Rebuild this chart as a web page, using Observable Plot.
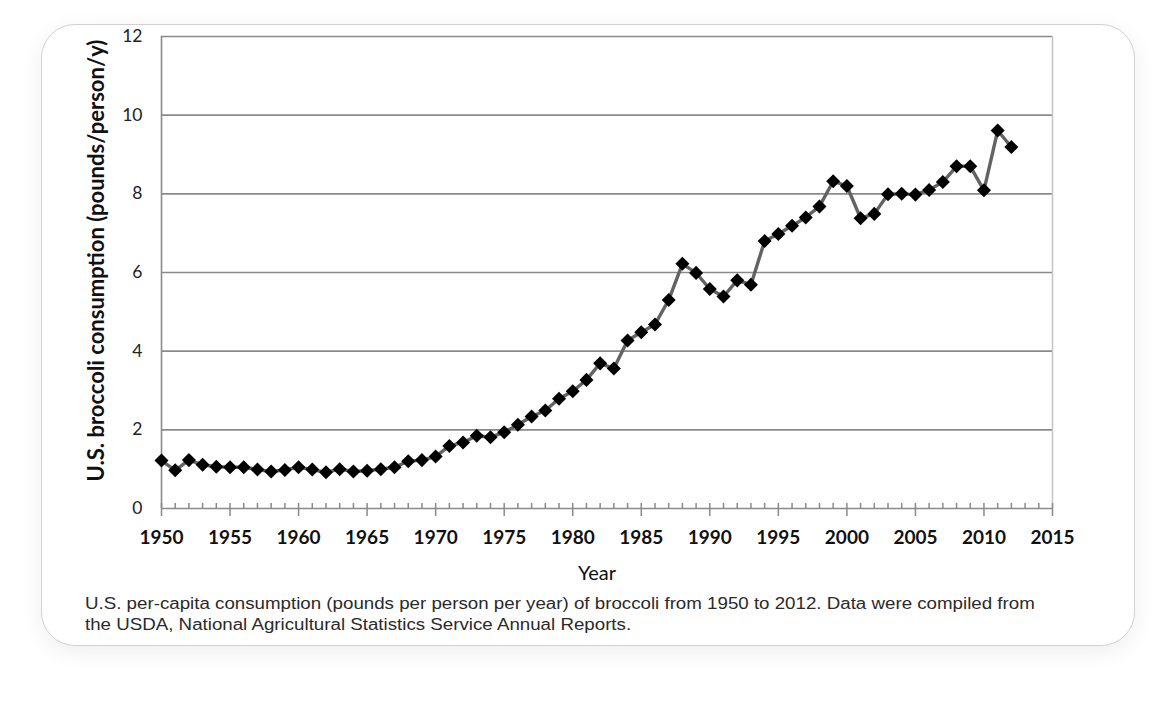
<!DOCTYPE html>
<html>
<head>
<meta charset="utf-8">
<script src="https://cdn.jsdelivr.net/npm/d3@7"></script>
<script src="https://cdn.jsdelivr.net/npm/@observablehq/plot@0.6"></script>
<style>
  html, body { margin: 0; padding: 0; background: #ffffff; }
  #page { position: relative; width: 1176px; height: 704px; overflow: hidden; }
  #card {
    position: absolute; left: 41px; top: 24px; width: 1092px; height: 620px;
    border: 1.5px solid #d2d2d2; border-radius: 34px; background: #fff;
    box-shadow: 0 6px 22px rgba(0,0,0,0.07);
  }
  #chart { position: absolute; left: 0; top: 0; }
  #caption {
    position: absolute; left: 85px; top: 593px; width: 1000px;
    font-family: "Liberation Sans", Arial, sans-serif; font-size: 17.3px; line-height: 21px; color: #2a2a2a;
    transform: scaleX(1.083); transform-origin: 0 0; white-space: nowrap;
  }
</style>
</head>
<body>
<div id="page">
  <div id="card"></div>
  <div id="chart"></div>
  <div id="caption">U.S. per-capita consumption (pounds per person per year) of broccoli from 1950 to 2012. Data were compiled from<br>the USDA, National Agricultural Statistics Service Annual Reports.</div>
</div>
<script>
const years = [1950,1951,1952,1953,1954,1955,1956,1957,1958,1959,
  1960,1961,1962,1963,1964,1965,1966,1967,1968,1969,
  1970,1971,1972,1973,1974,1975,1976,1977,1978,1979,
  1980,1981,1982,1983,1984,1985,1986,1987,1988,1989,
  1990,1991,1992,1993,1994,1995,1996,1997,1998,1999,
  2000,2001,2002,2003,2004,2005,2006,2007,2008,2009,
  2010,2011,2012];
const consumption = [1.22,0.97,1.23,1.11,1.06,1.05,1.05,0.99,0.94,0.98,
  1.05,0.99,0.92,1.00,0.94,0.96,1.00,1.05,1.20,1.23,
  1.32,1.59,1.68,1.85,1.81,1.94,2.13,2.34,2.49,2.79,
  2.98,3.27,3.69,3.56,4.27,4.48,4.68,5.30,6.22,5.99,
  5.58,5.39,5.80,5.69,6.80,6.98,7.19,7.40,7.68,8.32,
  8.20,7.38,7.49,7.99,8.00,7.98,8.10,8.30,8.70,8.70,
  8.09,9.61,9.19];
const xMajorTicks = [1950,1955,1960,1965,1970,1975,1980,1985,1990,1995,2000,2005,2010,2015];
const xMinorTicks = d3.range(1950, 2016);
const yTicks = [0,2,4,6,8,10,12];
const xLabel = "Year";
const yLabel = "U.S. broccoli consumption (pounds/person/y)";

const data = years.map((year, i) => ({year, value: consumption[i]}));
const axisColor = "#8a8a8a";

const chart = Plot.plot({
  width: 1176,
  height: 600,
  marginLeft: 161,
  marginRight: 124,
  marginTop: 36,
  marginBottom: 92,
  x: {domain: [1950, 2015]},
  y: {domain: [0, 12]},
  style: {background: "transparent", fontFamily: "Lato, 'Open Sans', sans-serif", color: "#111"},
  marks: [
    Plot.ruleY(yTicks.filter(d => d > 0), {stroke: axisColor, strokeWidth: 1.6}),
    Plot.ruleX([2015], {stroke: "#c4c4c4", strokeWidth: 1.5}),
    Plot.ruleX([1950], {stroke: axisColor, strokeWidth: 1.6}),
    Plot.ruleY([0], {stroke: axisColor, strokeWidth: 1.6}),
    Plot.axisX({ticks: xMinorTicks, tickSize: -5, tickFormat: () => "", stroke: axisColor, strokeWidth: 1.5, label: null}),
    Plot.axisX({ticks: xMajorTicks, tickSize: 8, tickPadding: 14, tickFormat: "d", stroke: axisColor, strokeWidth: 1.5,
                fontSize: 19, fontWeight: "bold", fill: "#111", label: null}),
    Plot.axisY({ticks: yTicks, tickSize: 0, tickPadding: 19, fontSize: 17.5, fill: "#222", label: null}),
    Plot.line(data, {x: "year", y: "value", stroke: "#636363", strokeWidth: 3.4}),
    Plot.dot(data, {x: "year", y: "value", symbol: "square", rotate: 45, r: 5.6, fill: "#000", stroke: "none"}),
    Plot.text([xLabel], {frameAnchor: "bottom", dx: -10, dy: 71, fontSize: 20, fill: "#111"}),
    Plot.text([yLabel], {frameAnchor: "left", textAnchor: "middle", dx: -65, dy: -12, rotate: -90, fontSize: 22, fontWeight: "bold", fill: "#111"})
  ]
});
document.getElementById("chart").appendChild(chart);
</script>
</body>
</html>
